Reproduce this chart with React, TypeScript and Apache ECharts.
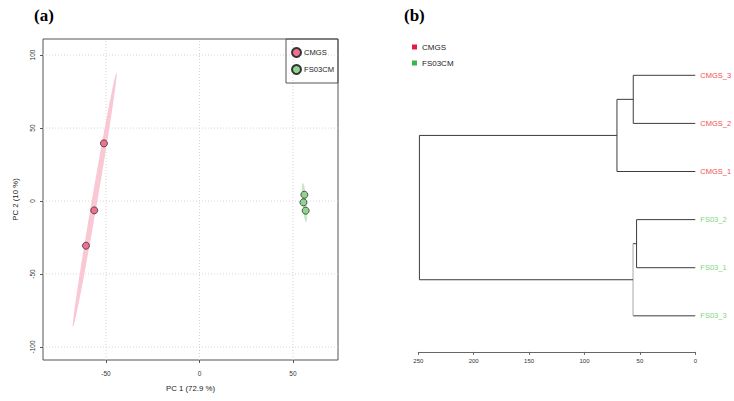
import React, { useEffect, useRef } from "react";
import * as echarts from "echarts";

// ---------- Panel (a): PCA ----------
const pcaGroups = ["CMGS", "FS03CM"];
const cmgsPC1 = [-51.1, -56.3, -60.7];
const cmgsPC2 = [39.5, -6.4, -30.6];
const fs03PC1 = [56.1, 55.6, 56.8];
const fs03PC2 = [4.3, -0.9, -6.6];
const pcaXTicks = [-50, 0, 50];
const pcaYTicks = [-100, -50, 0, 50, 100];
const pcaXRange = [-83.7, 74.1];
const pcaYRange = [-108.9, 111];

// ---------- Panel (b): dendrogram ----------
const leafLabels = ["CMGS_3", "CMGS_2", "CMGS_1", "FS03_2", "FS03_1", "FS03_3"];
const leafGroup = [0, 0, 0, 1, 1, 1];
// hclust-style merges: negative = leaf (1-based), positive = earlier merge (1-based)
const mergeLeft = [-1, -4, -6, -3, 4];
const mergeRight = [-2, -5, 2, 1, 3];
const mergeHeight = [56, 53, 56.2, 70.7, 249];
const mergeVerticalLight = [false, false, true, false, false];
const distTicks = [250, 200, 150, 100, 50, 0];

const FONT = "'Liberation Sans', Arial, sans-serif";
const pointColors = ["#f0718d", "#8fd58f"];
const ellipseColors = ["#f9c8d4", "#c6e8c6"];
const legendBColors = ["#e6194b", "#3cb44b"];
const leafColors = ["#f0504f", "#7fd47f"];

const CHI2_95_2DF = 5.991;
function confEllipse(xs: number[], ys: number[], n = 160): number[][] {
  const m = xs.length;
  const mx = xs.reduce((a, b) => a + b, 0) / m;
  const my = ys.reduce((a, b) => a + b, 0) / m;
  let sxx = 0, syy = 0, sxy = 0;
  for (let i = 0; i < m; i++) {
    sxx += (xs[i] - mx) ** 2;
    syy += (ys[i] - my) ** 2;
    sxy += (xs[i] - mx) * (ys[i] - my);
  }
  sxx /= m - 1; syy /= m - 1; sxy /= m - 1;
  const l11 = Math.sqrt(sxx);
  const l21 = sxy / l11;
  const l22 = Math.sqrt(Math.max(syy - l21 * l21, 0));
  const r = Math.sqrt(CHI2_95_2DF);
  const pts: number[][] = [];
  for (let k = 0; k < n; k++) {
    const t = (2 * Math.PI * k) / n;
    const u = Math.cos(t), v = Math.sin(t);
    pts.push([mx + r * l11 * u, my + r * (l21 * u + l22 * v)]);
  }
  return pts;
}

const ellipses = [confEllipse(cmgsPC1, cmgsPC2), confEllipse(fs03PC1, fs03PC2)];

function buildSegments() {
  const nodes: { h: number; y: number }[] = [];
  const pos = (ref: number) => (ref < 0 ? { h: 0, y: -ref - 1 } : nodes[ref - 1]);
  const segs: number[][] = [];
  for (let k = 0; k < mergeHeight.length; k++) {
    const L = pos(mergeLeft[k]);
    const R = pos(mergeRight[k]);
    const h = mergeHeight[k];
    segs.push([L.h, L.y, h, L.y, 0]);
    segs.push([R.h, R.y, h, R.y, 0]);
    segs.push([h, L.y, h, R.y, mergeVerticalLight[k] ? 1 : 0]);
    nodes.push({ h, y: (L.y + R.y) / 2 });
  }
  return segs;
}
const dendroSegments = buildSegments();

const gridData = [
  ...pcaXTicks.map((v) => [v, 0]),
  ...pcaYTicks.map((v) => [v, 1]),
];

const option: any = {
  animation: false,
  backgroundColor: "#fff",
  title: [
    {
      text: "(a)", left: 34, top: 7, padding: 0,
      textStyle: { fontFamily: "'Liberation Serif', 'Times New Roman', serif", fontWeight: "bold", fontSize: 17, color: "#000" },
    },
    {
      text: "(b)", left: 404, top: 7, padding: 0,
      textStyle: { fontFamily: "'Liberation Serif', 'Times New Roman', serif", fontWeight: "bold", fontSize: 17, color: "#000" },
    },
  ],
  legend: [
    {
      data: pcaGroups.map((g) => ({ name: g })),
      orient: "vertical", left: 286, top: 39,
      borderColor: "#555", borderWidth: 1, borderRadius: 0,
      padding: [8, 4, 8, 5], itemGap: 6, itemWidth: 9, itemHeight: 9,
      icon: "circle",
      textStyle: { fontSize: 7.6, color: "#222", fontFamily: FONT, padding: [0, 0, 0, -2] },
    },
    {
      data: pcaGroups.map((g, i) => ({ name: g, icon: "rect", itemStyle: { color: legendBColors[i], borderWidth: 0 } })),
      orient: "vertical", left: 412, top: 43, padding: 0,
      itemGap: 8, itemWidth: 5, itemHeight: 5,
      textStyle: { fontSize: 8, color: "#222", fontFamily: FONT },
    },
  ],
  grid: [
    { left: 43, top: 39, width: 295, height: 321, show: true, borderColor: "#555", borderWidth: 1, backgroundColor: "transparent" },
    { left: 418.3, top: 51.25, width: 277, height: 300.65 },
  ],
  xAxis: [
    {
      gridIndex: 0, type: "value", min: pcaXRange[0], max: pcaXRange[1],
      axisLine: { show: false, onZero: false },
      axisTick: { show: true, customValues: pcaXTicks, length: 3, lineStyle: { color: "#555" } },
      axisLabel: { customValues: pcaXTicks, fontSize: 6.5, color: "#333", margin: 10, fontFamily: FONT },
      splitLine: { show: false },
      name: "PC 1 (72.9 %)", nameLocation: "middle", nameGap: 24,
      nameTextStyle: { fontSize: 7.8, color: "#222", fontFamily: FONT },
    },
    {
      gridIndex: 1, type: "value", min: 0, max: 250, interval: 50, inverse: true, position: "bottom",
      axisLine: { show: true, onZero: false, lineStyle: { color: "#666" } },
      axisTick: { show: true, length: 3, lineStyle: { color: "#666" } },
      axisLabel: { fontSize: 6, color: "#333", margin: 6, fontFamily: FONT },
      splitLine: { show: false },
    },
  ],
  yAxis: [
    {
      gridIndex: 0, type: "value", min: pcaYRange[0], max: pcaYRange[1],
      axisLine: { show: false, onZero: false },
      axisTick: { show: true, customValues: pcaYTicks, length: 3, lineStyle: { color: "#555" } },
      axisLabel: { customValues: pcaYTicks, fontSize: 6.5, color: "#333", margin: 7, rotate: 90, fontFamily: FONT },
      splitLine: { show: false },
      name: "PC 2 (10 %)", nameLocation: "middle", nameGap: 24, nameRotate: 90,
      nameTextStyle: { fontSize: 7.8, color: "#222", fontFamily: FONT },
    },
    { gridIndex: 1, type: "value", min: -0.5, max: 5.75, inverse: true, show: false, axisLine: { onZero: false } },
  ],
  series: [
    {
      type: "custom", name: "grid", xAxisIndex: 0, yAxisIndex: 0, silent: true, clip: false, z: 1,
      data: gridData,
      renderItem: (_p: any, api: any) => {
        const v = api.value(0);
        const dir = api.value(1);
        const a = dir === 0 ? api.coord([v, pcaYRange[0]]) : api.coord([pcaXRange[0], v]);
        const b = dir === 0 ? api.coord([v, pcaYRange[1]]) : api.coord([pcaXRange[1], v]);
        return {
          type: "line",
          shape: { x1: a[0], y1: a[1], x2: b[0], y2: b[1] },
          style: { stroke: "#d6d6d6", lineWidth: 1, lineDash: [1, 2] },
        };
      },
    },
    {
      type: "custom", name: "ellipses", xAxisIndex: 0, yAxisIndex: 0, silent: true, z: 2,
      data: [
        [cmgsPC1[0], cmgsPC2[0]],
        [fs03PC1[0], fs03PC2[0]],
      ],
      renderItem: (p: any, api: any) => {
        const pts = ellipses[p.dataIndex].map((q) => api.coord(q));
        return { type: "polygon", shape: { points: pts }, style: { fill: ellipseColors[p.dataIndex], stroke: "none" } };
      },
    },
    {
      type: "scatter", name: "CMGS", xAxisIndex: 0, yAxisIndex: 0, z: 3,
      data: cmgsPC1.map((x, i) => [x, cmgsPC2[i]]),
      symbol: "circle", symbolSize: 7,
      itemStyle: { color: pointColors[0], borderColor: "#333", borderWidth: 0.8, opacity: 1 },
    },
    {
      type: "scatter", name: "FS03CM", xAxisIndex: 0, yAxisIndex: 0, z: 3,
      data: fs03PC1.map((x, i) => [x, fs03PC2[i]]),
      symbol: "circle", symbolSize: 7,
      itemStyle: { color: pointColors[1], borderColor: "#333", borderWidth: 0.8, opacity: 1 },
    },
    {
      type: "custom", name: "dendrogram", xAxisIndex: 1, yAxisIndex: 1, silent: true, clip: false, z: 2,
      data: dendroSegments,
      renderItem: (_p: any, api: any) => {
        const a = api.coord([api.value(0), api.value(1)]);
        const b = api.coord([api.value(2), api.value(3)]);
        const light = api.value(4) === 1;
        return {
          type: "line",
          shape: { x1: a[0], y1: a[1], x2: b[0], y2: b[1] },
          style: { stroke: light ? "#a8a8a8" : "#3c3c3c", lineWidth: 1 },
        };
      },
    },
    {
      type: "scatter", name: "leaves", xAxisIndex: 1, yAxisIndex: 1, silent: true, z: 3,
      symbolSize: 0,
      data: leafLabels.map((l, i) => ({
        value: [0, i],
        itemStyle: { color: leafColors[leafGroup[i]] },
        label: { color: leafColors[leafGroup[i]] },
      })),
      label: {
        show: true, position: "right", distance: 5, fontSize: 7.5, fontFamily: FONT,
        textBorderWidth: 0, opacity: 1,
        formatter: (p: any) => leafLabels[p.dataIndex],
      },
    },
  ],
};

export default function App() {
  const ref = useRef<HTMLDivElement>(null);
  useEffect(() => {
    const chart = echarts.init(ref.current!, null, { renderer: "svg" });
    chart.setOption(option);
    return () => chart.dispose();
  }, []);
  return (
    <div
      ref={ref}
      style={{ position: "fixed", left: 0, top: 0, width: 734, height: 401, background: "#fff" }}
    />
  );
}
